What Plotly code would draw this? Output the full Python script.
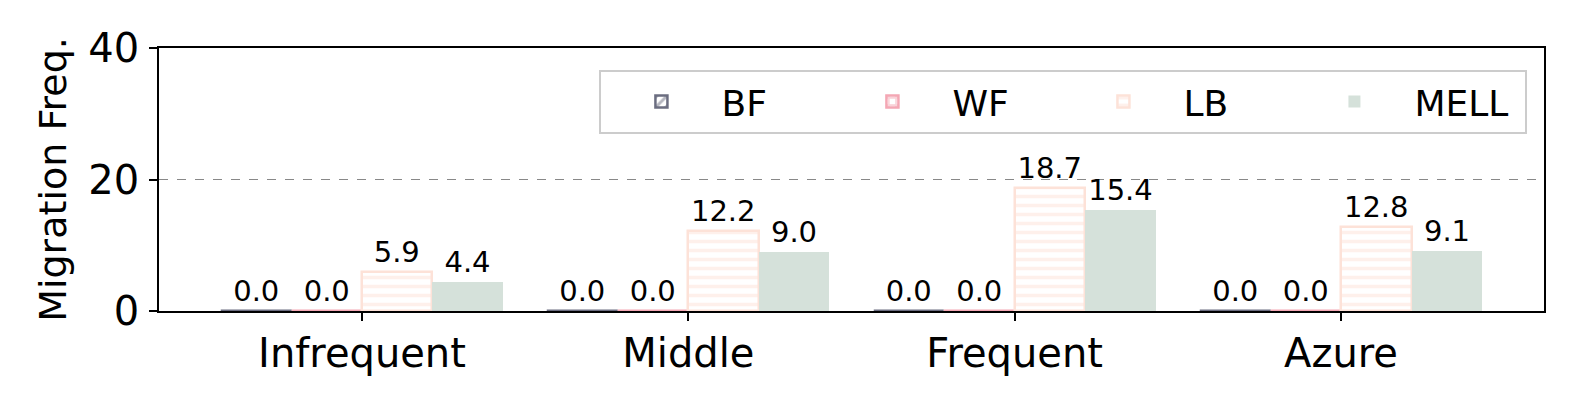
import plotly.graph_objects as go

categories = ["Infrequent", "Middle", "Frequent", "Azure"]
methods = ["BF", "WF", "LB", "MELL"]
bf = [0.0, 0.0, 0.0, 0.0]
wf = [0.0, 0.0, 0.0, 0.0]
lb = [5.9, 12.2, 18.7, 12.8]
mell = [4.4, 9.0, 15.4, 9.1]

series = [bf, wf, lb, mell]
colors = ["#6b6d80", "#f4a7b4", "#fde2d8", "#d5e1da"]
shapes = ["/", "+", "-", ""]
width = 0.216
font = "DejaVu Sans, Arial, sans-serif"
group_x = list(range(len(categories)))

fig = go.Figure()
for i, (name, vals) in enumerate(zip(methods, series)):
    off = (i - 1.5) * width
    xs = [g + off for g in group_x]
    if shapes[i]:
        marker = dict(color="white",
                      line=dict(color=colors[i], width=2.5),
                      pattern=dict(shape=shapes[i], fgcolor=colors[i], bgcolor="white",
                                   size=9, solidity=0.4))
    else:
        marker = dict(color=colors[i], line=dict(width=0))
    fig.add_trace(go.Bar(
        x=xs, y=vals, name=name, width=width, marker=marker,
        text=[f"{v:.1f}" for v in vals], textposition="outside",
        textfont=dict(size=29, color="black", family=font),
        cliponaxis=False,
    ))

# page body keeps its default 8px margin, so the figure is sized to fit inside it
fig.update_layout(
    width=1562, height=390,
    margin=dict(l=151, r=26, t=40, b=87),
    plot_bgcolor="white", paper_bgcolor="white",
    font=dict(family=font, color="black"),
    barmode="overlay", bargap=0,
    legend=dict(orientation="h", x=0.318, y=0.918, xanchor="left", yanchor="top",
                bordercolor="#cccccc", borderwidth=2, bgcolor="rgba(255,255,255,0.8)",
                font=dict(size=36, family=font), entrywidth=106,
                itemwidth=110, tracegroupgap=0),
    showlegend=True,
)
fig.update_xaxes(range=[-0.622, 3.622], tickvals=group_x, ticktext=categories,
                 tickfont=dict(size=40, family=font), ticklabelstandoff=-2,
                 ticks="outside", ticklen=8, tickwidth=1.5, tickcolor="black",
                 showline=True, linecolor="black", linewidth=1.5, mirror=True,
                 showgrid=False, zeroline=False, automargin=False)
fig.update_yaxes(range=[0, 40], tickvals=[0, 20, 40], ticks="outside", ticklen=8,
                 tickwidth=1.5, tickcolor="black",
                 tickfont=dict(size=40, family=font), ticklabelstandoff=2,
                 title=dict(text="Migration Freq.", font=dict(size=38, family=font), standoff=10),
                 showline=True, linecolor="black", linewidth=1.5, mirror=True,
                 showgrid=True, gridcolor="#888888", griddash="dash", gridwidth=1,
                 zeroline=False, automargin=False)

fig.write_html("out.html")
